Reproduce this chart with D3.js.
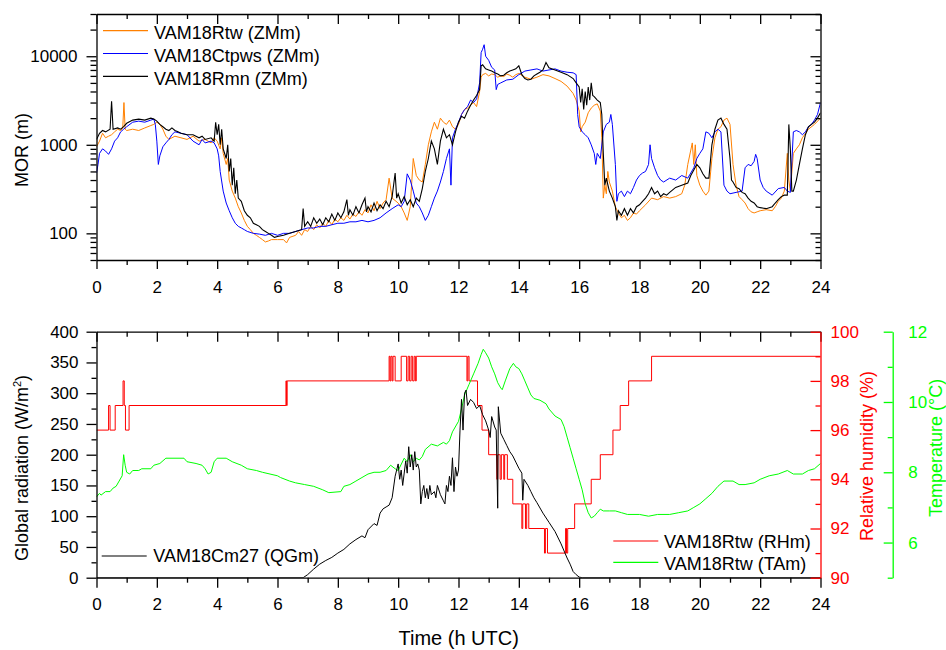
<!DOCTYPE html>
<html>
<head>
<meta charset="utf-8">
<script src="https://cdnjs.cloudflare.com/ajax/libs/d3/7.8.5/d3.min.js"></script>
<style>
body { margin: 0; background: #fff; }
svg text { font-family: "Liberation Sans", Arial, sans-serif; }
</style>
</head>
<body>
<div id="chart"></div>
<script>
// ---- data: [hour UTC, value] ----
// MOR (m), top panel
var morRtw = [[0,950],[0.1,1100],[0.2,1350],[0.3,1200],[0.4,1250],[0.5,1300],[0.6,1400],[0.7,1500],[0.8,1450],[0.87,1550],[0.91,3000],[0.95,1500],[1.0,1450],[1.2,1500],[1.4,1450],[1.6,1550],[1.8,1650],[1.9,1700],[2.0,1800],[2.1,1700],[2.2,1500],[2.3,1250],[2.4,1150],[2.5,1200],[2.6,1250],[2.8,1200],[3.0,1150],[3.2,1250],[3.4,1100],[3.6,1150],[3.8,1050],[3.9,1200],[4.0,1100],[4.1,900],[4.15,1200],[4.2,800],[4.3,600],[4.35,700],[4.4,400],[4.5,300],[4.6,250],[4.7,200],[4.8,170],[4.9,140],[5.0,120],[5.1,110],[5.2,100],[5.3,95],[5.4,90],[5.5,85],[5.6,80],[5.7,82],[5.8,85],[6.0,85],[6.2,85],[6.3,78],[6.4,90],[6.6,95],[6.7,105],[6.8,95],[6.9,110],[7.0,105],[7.1,120],[7.2,110],[7.3,125],[7.4,115],[7.5,130],[7.6,120],[7.7,140],[7.8,125],[7.9,145],[8.0,135],[8.1,150],[8.2,140],[8.3,160],[8.4,145],[8.5,165],[8.6,155],[8.7,175],[8.8,160],[8.9,185],[9.0,170],[9.1,210],[9.2,180],[9.3,230],[9.4,190],[9.5,220],[9.6,240],[9.7,420],[9.8,250],[10.0,220],[10.1,200],[10.2,170],[10.3,140],[10.4,200],[10.5,700],[10.6,450],[10.7,400],[10.8,380],[10.9,600],[11.0,1000],[11.1,1400],[11.2,1800],[11.3,1500],[11.4,2000],[11.5,1800],[11.6,1700],[11.7,1900],[11.8,1600],[11.9,1500],[12.0,1700],[12.1,2200],[12.2,2500],[12.3,2600],[12.4,2800],[12.5,3000],[12.6,2700],[12.7,4000],[12.75,5800],[12.8,6200],[12.9,6400],[13.0,6000],[13.1,6300],[13.2,6200],[13.3,5800],[13.4,6000],[13.5,5900],[13.6,6300],[13.7,6100],[13.8,5800],[13.9,6200],[14.0,6400],[14.2,5800],[14.4,5500],[14.6,5800],[14.8,6200],[15.0,6000],[15.2,5600],[15.4,5200],[15.6,4600],[15.8,3800],[15.9,3200],[16.0,2400],[16.05,1400],[16.1,1600],[16.2,1800],[16.3,2300],[16.4,2600],[16.5,2800],[16.6,2900],[16.7,2400],[16.75,1200],[16.8,250],[16.85,350],[16.9,280],[16.95,500],[17.0,380],[17.1,300],[17.2,200],[17.3,170],[17.4,150],[17.5,160],[17.6,140],[17.7,150],[17.8,170],[17.9,165],[18.0,180],[18.2,210],[18.4,250],[18.6,240],[18.8,260],[19.0,250],[19.2,260],[19.4,280],[19.5,350],[19.6,600],[19.75,1050],[19.8,600],[19.85,1000],[19.9,450],[20.0,350],[20.1,300],[20.2,270],[20.3,300],[20.4,700],[20.5,1200],[20.6,1500],[20.7,1600],[20.8,1900],[20.9,2000],[21.0,1700],[21.1,600],[21.2,350],[21.3,260],[21.4,240],[21.5,220],[21.6,190],[21.7,175],[21.8,170],[21.9,175],[22.0,180],[22.2,185],[22.4,180],[22.5,200],[22.6,230],[22.7,250],[22.8,300],[22.9,800],[22.95,400],[23.0,300],[23.1,800],[23.2,900],[23.3,1000],[23.4,1200],[23.6,1500],[23.8,1700],[24.0,2000]]

var morCtpws = [[0,480],[0.05,600],[0.1,800],[0.2,900],[0.3,850],[0.4,780],[0.5,900],[0.6,1100],[0.7,1200],[0.8,1400],[0.9,1500],[1.0,1600],[1.2,1800],[1.4,1850],[1.6,1800],[1.8,1900],[1.9,1950],[1.95,1700],[2.0,1100],[2.05,600],[2.1,750],[2.2,950],[2.3,1050],[2.4,1150],[2.5,1300],[2.6,1400],[2.8,1350],[3.0,1300],[3.2,1100],[3.4,1000],[3.5,1150],[3.6,1050],[3.8,1100],[3.9,1050],[4.0,900],[4.05,750],[4.1,500],[4.2,300],[4.3,220],[4.4,180],[4.5,150],[4.6,130],[4.7,120],[4.8,115],[4.9,110],[5.0,105],[5.2,100],[5.4,98],[5.6,95],[5.8,100],[6.0,95],[6.2,100],[6.4,100],[6.6,105],[6.8,110],[7.0,115],[7.2,115],[7.4,120],[7.6,120],[7.8,125],[8.0,130],[8.2,130],[8.4,135],[8.6,135],[8.8,140],[9.0,135],[9.2,140],[9.4,150],[9.6,170],[9.8,190],[10.0,210],[10.1,200],[10.2,230],[10.3,470],[10.4,400],[10.5,300],[10.6,220],[10.7,200],[10.8,170],[10.9,140],[11.0,160],[11.1,200],[11.2,250],[11.3,300],[11.4,380],[11.5,500],[11.6,700],[11.7,900],[11.75,350],[11.8,1200],[11.9,1500],[12.0,1800],[12.1,2200],[12.2,2500],[12.3,2700],[12.4,3200],[12.5,3000],[12.6,3300],[12.7,5000],[12.75,11000],[12.8,12000],[12.85,13500],[12.9,10000],[13.0,9000],[13.1,7500],[13.2,7000],[13.25,4200],[13.3,4800],[13.4,5000],[13.6,5400],[13.8,5500],[14.0,6200],[14.2,6800],[14.4,7000],[14.6,7200],[14.8,6800],[15.0,7000],[15.2,7200],[15.4,6800],[15.6,6600],[15.8,6500],[15.9,6200],[15.95,2200],[16.0,1600],[16.1,1400],[16.2,1300],[16.3,1200],[16.4,1000],[16.5,800],[16.55,600],[16.6,800],[16.7,700],[16.8,1400],[16.9,1700],[17.0,1800],[17.05,2200],[17.1,1700],[17.2,600],[17.25,230],[17.3,280],[17.4,300],[17.5,260],[17.6,300],[17.7,280],[17.8,330],[17.9,400],[18.0,450],[18.1,480],[18.2,500],[18.3,600],[18.35,1000],[18.4,700],[18.5,550],[18.6,450],[18.7,400],[18.8,380],[19.0,420],[19.2,400],[19.4,450],[19.6,420],[19.8,550],[19.9,700],[20.0,800],[20.1,900],[20.2,1400],[20.3,1350],[20.4,1200],[20.5,1400],[20.6,1500],[20.7,1400],[20.8,350],[20.9,300],[21.0,280],[21.2,290],[21.4,300],[21.5,550],[21.6,600],[21.7,580],[21.8,650],[21.85,780],[21.9,700],[22.0,400],[22.1,330],[22.2,300],[22.4,270],[22.6,320],[22.8,330],[22.9,300],[23.0,290],[23.1,1400],[23.2,1450],[23.3,1400],[23.4,1300],[23.5,1400],[23.6,1600],[23.7,1700],[23.8,1900],[23.9,2200],[24.0,3000]]

var morRmn = [[0,1150],[0.1,1350],[0.2,1450],[0.3,1400],[0.45,1500],[0.5,3100],[0.55,1500],[0.7,1550],[0.8,1500],[0.9,1600],[1.0,1750],[1.2,1900],[1.4,1950],[1.6,1900],[1.8,2000],[1.9,1950],[2.0,1850],[2.1,1700],[2.2,1600],[2.3,1500],[2.4,1450],[2.5,1550],[2.6,1450],[2.7,1400],[2.8,1350],[3.0,1300],[3.2,1300],[3.4,1200],[3.5,1250],[3.6,1150],[3.8,1200],[3.9,1100],[3.95,1800],[4.0,1300],[4.05,1700],[4.1,1000],[4.15,1500],[4.2,900],[4.3,700],[4.35,1000],[4.4,500],[4.45,700],[4.5,350],[4.55,550],[4.6,280],[4.65,400],[4.7,250],[4.8,230],[4.9,180],[5.0,160],[5.1,150],[5.2,130],[5.3,125],[5.4,120],[5.5,110],[5.6,105],[5.7,100],[5.8,95],[5.9,90],[6.0,92],[6.2,95],[6.4,100],[6.6,105],[6.8,110],[6.85,190],[6.9,120],[7.0,135],[7.1,120],[7.2,150],[7.3,130],[7.4,145],[7.5,125],[7.6,150],[7.7,135],[7.8,165],[7.9,140],[8.0,170],[8.1,150],[8.2,175],[8.3,240],[8.35,160],[8.4,185],[8.5,160],[8.6,200],[8.7,170],[8.8,210],[8.9,250],[8.95,175],[9.0,200],[9.1,175],[9.2,220],[9.3,180],[9.4,210],[9.5,190],[9.6,230],[9.7,200],[9.8,260],[9.9,480],[9.95,250],[10.0,280],[10.1,220],[10.2,260],[10.3,210],[10.4,240],[10.5,200],[10.6,250],[10.7,230],[10.8,320],[10.9,500],[11.0,700],[11.1,1100],[11.2,900],[11.3,600],[11.4,1100],[11.5,1500],[11.6,1200],[11.7,1300],[11.8,1000],[11.9,1400],[12.0,1800],[12.1,2100],[12.2,2000],[12.3,2400],[12.4,2800],[12.5,3200],[12.6,3600],[12.7,4200],[12.75,7800],[12.8,8000],[12.9,7200],[13.0,7000],[13.1,6800],[13.2,6500],[13.3,6300],[13.4,6000],[13.5,6100],[13.6,6500],[13.7,6800],[13.8,7000],[13.9,7200],[14.0,7800],[14.1,6200],[14.2,5600],[14.3,5400],[14.4,5500],[14.5,6000],[14.6,6300],[14.7,6600],[14.8,7000],[14.9,8500],[15.0,7400],[15.2,7000],[15.4,6600],[15.6,6200],[15.8,5600],[15.9,5000],[16.0,4500],[16.05,3000],[16.1,4300],[16.15,2500],[16.2,4000],[16.25,2800],[16.3,4500],[16.35,3200],[16.4,5000],[16.45,3600],[16.5,3500],[16.6,3200],[16.7,3000],[16.75,2200],[16.8,800],[16.85,350],[16.9,420],[17.0,300],[17.1,250],[17.2,200],[17.25,140],[17.3,180],[17.4,160],[17.5,190],[17.6,160],[17.7,190],[17.8,170],[17.9,200],[18.0,210],[18.1,230],[18.2,250],[18.3,280],[18.4,330],[18.5,280],[18.6,300],[18.7,260],[18.8,280],[18.9,270],[19.0,290],[19.2,330],[19.4,350],[19.6,370],[19.7,450],[19.8,520],[19.9,600],[20.0,550],[20.1,470],[20.2,420],[20.3,420],[20.4,1000],[20.5,1500],[20.6,1900],[20.7,2000],[20.8,1700],[20.9,1500],[21.0,700],[21.05,400],[21.1,380],[21.2,330],[21.3,320],[21.4,290],[21.5,280],[21.6,250],[21.7,230],[21.8,220],[21.9,200],[22.0,195],[22.2,190],[22.4,200],[22.5,220],[22.6,240],[22.7,260],[22.8,270],[22.9,270],[22.95,1700],[23.0,900],[23.05,300],[23.1,300],[23.2,400],[23.3,600],[23.4,900],[23.5,1300],[23.6,1600],[23.7,1700],[23.8,1800],[23.9,2000],[24.0,2300]]

// global radiation (W/m2), bottom panel
var qgCm27 = [[0,0],[6.85,0],[7.0,5],[7.2,14],[7.4,22],[7.6,28],[7.8,33],[8.0,40],[8.2,46],[8.4,55],[8.6,62],[8.8,68],[8.9,65],[9.0,78],[9.2,88],[9.3,85],[9.4,105],[9.5,112],[9.6,115],[9.7,118],[9.8,130],[9.9,165],[10.0,185],[10.05,160],[10.1,175],[10.15,150],[10.25,190],[10.3,170],[10.35,213],[10.4,180],[10.45,200],[10.5,175],[10.55,205],[10.6,180],[10.65,185],[10.7,175],[10.75,120],[10.8,140],[10.85,150],[10.9,130],[10.95,145],[11.0,128],[11.05,150],[11.1,135],[11.2,140],[11.25,130],[11.3,150],[11.4,135],[11.5,125],[11.55,120],[11.6,150],[11.65,140],[11.7,165],[11.75,150],[11.8,195],[11.85,140],[11.9,180],[11.95,165],[12.0,175],[12.05,240],[12.1,290],[12.15,240],[12.2,300],[12.25,305],[12.3,280],[12.4,290],[12.5,285],[12.6,275],[12.7,280],[12.8,265],[12.9,255],[13.0,240],[13.05,228],[13.1,262],[13.2,245],[13.25,240],[13.3,113],[13.32,278],[13.4,235],[13.5,225],[13.6,215],[13.7,205],[13.8,198],[13.9,188],[14.0,178],[14.1,170],[14.13,126],[14.17,160],[14.3,150],[14.4,140],[14.5,130],[14.6,122],[14.8,105],[15.0,90],[15.2,75],[15.4,55],[15.6,32],[15.7,22],[15.8,10],[15.9,5],[16.0,1],[16.1,0],[24,0]]

// relative humidity (%), value holds until next entry
var rhRtw = [[0,96],[0.4,97],[0.45,96],[0.62,97],[0.88,98],[0.92,97],[0.96,96],[1.08,97],[6.28,98],[6.3,97],[6.32,98],[9.7,99],[9.73,98],[9.76,99],[9.8,98],[9.83,99],[9.9,98],[10.1,99],[10.28,98],[10.33,99],[10.38,98],[10.43,99],[10.48,98],[10.53,99],[10.57,98],[10.6,99],[12.28,98],[12.31,99],[12.35,98],[12.63,97],[12.78,96],[13.0,95],[13.27,94],[13.3,95],[13.38,94],[13.42,95],[13.5,94],[13.53,95],[13.62,94],[13.8,93],[14.1,92],[14.13,93],[14.22,92],[14.26,93],[14.33,92],[14.85,91],[14.88,92],[14.95,91],[15.55,92],[15.58,91],[15.62,92],[15.85,93],[16.4,94],[16.7,95],[17.12,96],[17.36,97],[17.64,98],[18.4,99],[24,99]]

// air temperature (degC)
var taRtw = [[0,7.3],[0.1,7.4],[0.15,7.35],[0.3,7.45],[0.45,7.45],[0.55,7.55],[0.65,7.6],[0.75,7.75],[0.85,7.9],[0.9,8.5],[0.95,8.2],[1.0,8.0],[1.1,7.95],[1.2,8.05],[1.4,8.05],[1.5,8.1],[1.8,8.1],[1.9,8.2],[2.1,8.25],[2.3,8.4],[2.9,8.4],[3.0,8.3],[3.3,8.25],[3.5,8.2],[3.6,8.1],[3.7,7.95],[3.8,8.0],[3.9,8.3],[4.0,8.4],[4.3,8.4],[4.5,8.3],[4.8,8.2],[5.0,8.1],[5.3,8.05],[5.5,8.0],[6.0,7.9],[6.1,7.85],[6.4,7.75],[6.6,7.7],[6.9,7.65],[7.2,7.6],[7.5,7.5],[7.7,7.42],[8.1,7.45],[8.2,7.6],[8.4,7.65],[8.6,7.75],[8.8,7.85],[9.0,7.95],[9.2,8.0],[9.4,8.0],[9.6,8.05],[9.75,8.2],[9.9,8.1],[10.0,8.05],[10.2,8.4],[10.3,8.3],[10.4,8.5],[10.5,8.3],[10.6,8.4],[10.7,8.35],[10.8,8.45],[10.9,8.65],[11.1,8.8],[11.3,8.75],[11.5,8.85],[11.6,8.8],[11.7,8.9],[11.8,9.15],[12.0,9.45],[12.1,9.8],[12.2,10.2],[12.35,10.5],[12.5,10.8],[12.65,11.1],[12.75,11.35],[12.82,11.5],[12.9,11.4],[13.0,11.25],[13.1,11.0],[13.2,10.8],[13.3,10.55],[13.4,10.4],[13.45,10.35],[13.55,10.6],[13.7,10.95],[13.82,11.1],[13.9,11.0],[14.0,10.95],[14.1,10.8],[14.2,10.6],[14.3,10.4],[14.4,10.2],[14.5,10.1],[14.7,10.05],[14.9,9.95],[15.0,9.8],[15.2,9.6],[15.4,9.5],[15.5,9.3],[15.6,9.0],[15.7,8.7],[15.8,8.4],[15.9,8.1],[16.0,7.8],[16.1,7.5],[16.2,7.1],[16.3,6.85],[16.4,6.7],[16.5,6.75],[16.6,6.85],[16.7,6.95],[16.8,6.9],[17.0,6.9],[17.2,6.9],[17.4,6.85],[17.6,6.8],[18.0,6.8],[18.3,6.75],[18.6,6.8],[19.0,6.8],[19.3,6.85],[19.6,6.9],[19.8,7.0],[20.0,7.1],[20.2,7.25],[20.4,7.4],[20.6,7.6],[20.8,7.75],[21.1,7.75],[21.3,7.65],[21.5,7.65],[21.8,7.7],[22.0,7.8],[22.3,7.9],[22.6,7.95],[22.9,8.05],[23.1,7.95],[23.4,7.95],[23.6,8.05],[23.8,8.1],[24.0,8.25]]

// ticks
var hourMajor = d3.range(0, 25, 2)
var hourMinor = d3.range(1, 24, 2)
var morMajor = [100, 1000, 10000]
var morMinor = [50, 60, 70, 80, 90, 200, 300, 400, 500, 600, 700, 800, 900,
    2000, 3000, 4000, 5000, 6000, 7000, 8000, 9000, 20000, 30000]
var qgMajor = d3.range(0, 401, 50)
var qgMinor = d3.range(25, 400, 50)
var rhMajor = d3.range(90, 101, 2)
var rhMinor = d3.range(91, 100, 2)
var taMajor = [6, 8, 10, 12]
var taMinor = [5, 7, 9, 11]

var RED = "#ff0000", GREEN = "#00ff00", ORANGE = "#ff8000", BLUE = "#0000ff"
var FONT = "'Liberation Sans', Arial, sans-serif"

var svg = d3.select("#chart")
    .append("svg")
    .attr("width", 946)
    .attr("height", 650)

// scales
var x = d3.scaleLinear().domain([0, 24]).range([96.5, 820.5])
var yMor = d3.scaleLog().domain([50, 30000]).range([260, 14])
var yQg = d3.scaleLinear().domain([0, 400]).range([577.7, 331.7])
var yRh = d3.scaleLinear().domain([90, 100]).range([577.7, 331.7])
var yTa = d3.scaleLinear().domain([5, 12]).range([577.7, 331.7])

// clip paths for the two plot areas
var defs = svg.append("defs")
defs.append("clipPath").attr("id", "clipTop")
    .append("rect").attr("x", 96.5).attr("y", 14).attr("width", 724).attr("height", 246)
defs.append("clipPath").attr("id", "clipBot")
    .append("rect").attr("x", 96.5).attr("y", 331.7).attr("width", 724).attr("height", 246)

function styleAxis(g, color, fontSize) {
    g.attr("font-family", FONT).attr("font-size", fontSize || 17)
    g.select(".domain").attr("stroke", color).attr("stroke-width", 1.3)
    g.selectAll(".tick line").attr("stroke", color).attr("stroke-width", 1.3)
    g.selectAll(".tick text").attr("fill", color)
}

// axis with major + minor ticks
function addAxis(axisFn, scale, pos, major, minor, majorSize, minorSize, pad, fmt, color) {
    var g = svg.append("g").attr("transform", pos)
    g.call(axisFn(scale).tickValues(minor).tickSize(minorSize).tickSizeOuter(0).tickFormat(""))
    g.select(".domain").remove()
    var a = axisFn(scale).tickValues(major).tickSize(majorSize).tickSizeOuter(0).tickPadding(pad)
    if (fmt) a.tickFormat(fmt)
    else a.tickFormat("")
    var g2 = svg.append("g").attr("transform", pos).call(a)
    styleAxis(g, color)
    styleAxis(g2, color)
    return g2
}

var line = function(ys) {
    return d3.line().x(function(d) { return x(d[0]) }).y(function(d) { return ys(d[1]) })
}

// ---- top panel: MOR ----
var topPanel = svg.append("g").attr("clip-path", "url(#clipTop)")
topPanel.append("path").datum(morRtw).attr("d", line(yMor))
    .attr("fill", "none").attr("stroke", ORANGE).attr("stroke-width", 1)
topPanel.append("path").datum(morCtpws).attr("d", line(yMor))
    .attr("fill", "none").attr("stroke", BLUE).attr("stroke-width", 1)
topPanel.append("path").datum(morRmn).attr("d", line(yMor))
    .attr("fill", "none").attr("stroke", "#000").attr("stroke-width", 1.1)

addAxis(d3.axisBottom, x, "translate(0,260)", hourMajor, hourMinor, 9, 5, 12, d3.format("d"), "#000")
addAxis(d3.axisTop, x, "translate(0,14)", hourMajor, hourMinor, -10, -5, 3, null, "#000")
addAxis(d3.axisLeft, yMor, "translate(96.5,0)", morMajor, morMinor, 10, 6, 9, d3.format("d"), "#000")
addAxis(d3.axisRight, yMor, "translate(820.5,0)", morMajor, morMinor, -10, -5, 3, null, "#000")

svg.append("text")
    .attr("transform", "translate(28.3,150) rotate(-90)")
    .attr("text-anchor", "middle")
    .attr("font-size", 18)
    .text("MOR (m)")

// legend top
var legTop = [
    { name: "VAM18Rtw (ZMm)", color: ORANGE },
    { name: "VAM18Ctpws (ZMm)", color: BLUE },
    { name: "VAM18Rmn (ZMm)", color: "#000" }
]
legTop.forEach(function(d, i) {
    var yy = 30.7 + i * 22.8
    svg.append("line").attr("x1", 103).attr("x2", 148).attr("y1", yy).attr("y2", yy)
        .attr("stroke", d.color).attr("stroke-width", 1.2)
    svg.append("text").attr("x", 154).attr("y", yy + 8.6)
        .attr("font-size", 18).text(d.name)
})

// ---- bottom panel: radiation, humidity, temperature ----
var botPanel = svg.append("g").attr("clip-path", "url(#clipBot)")
botPanel.append("path").datum(rhRtw).attr("d", line(yRh).curve(d3.curveStepAfter))
    .attr("fill", "none").attr("stroke", RED).attr("stroke-width", 1)
botPanel.append("path").datum(taRtw).attr("d", line(yTa))
    .attr("fill", "none").attr("stroke", GREEN).attr("stroke-width", 1)
botPanel.append("path").datum(qgCm27).attr("d", line(yQg))
    .attr("fill", "none").attr("stroke", "#000").attr("stroke-width", 1)

addAxis(d3.axisBottom, x, "translate(0,577.7)", hourMajor, hourMinor, 10, 5, 10, d3.format("d"), "#000")
addAxis(d3.axisTop, x, "translate(0,331.7)", hourMajor, hourMinor, -10, -5, 3, null, "#000")
addAxis(d3.axisLeft, yQg, "translate(96.5,0)", qgMajor, qgMinor, 10, 5, 8, d3.format("d"), "#000")
addAxis(d3.axisRight, yRh, "translate(820.5,0)", rhMajor, rhMinor, -10, -5, 10, d3.format("d"), RED)
addAxis(d3.axisRight, yTa, "translate(892.7,0)", taMajor, taMinor, -9, -5, 15.5, d3.format("d"), GREEN)

var gr = svg.append("text")
    .attr("transform", "translate(28,468) rotate(-90)")
    .attr("text-anchor", "middle")
    .attr("font-size", 18)
gr.append("tspan").text("Global radiation (W/m")
gr.append("tspan").attr("dy", -7).attr("font-size", 11).text("2")
gr.append("tspan").attr("dy", 7).text(")")

svg.append("text")
    .attr("transform", "translate(873.3,456) rotate(-90)")
    .attr("text-anchor", "middle")
    .attr("font-size", 18)
    .attr("fill", RED)
    .text("Relative humidity (%)")

svg.append("text")
    .attr("transform", "translate(941.5,448) rotate(-90)")
    .attr("text-anchor", "middle")
    .attr("font-size", 18)
    .attr("fill", GREEN)
    .text("Temperature (\u00B0C)")

svg.append("text")
    .attr("x", 458.7).attr("y", 645)
    .attr("text-anchor", "middle")
    .attr("font-size", 20)
    .text("Time (h UTC)")

// legends bottom
svg.append("line").attr("x1", 101.7).attr("x2", 146.7).attr("y1", 556).attr("y2", 556)
    .attr("stroke", "#000").attr("stroke-width", 1.2)
svg.append("text").attr("x", 153.3).attr("y", 562.3).attr("font-size", 18).text("VAM18Cm27 (QGm)")

var legBot = [
    { name: "VAM18Rtw (RHm)", color: RED },
    { name: "VAM18Rtw (TAm)", color: GREEN }
]
legBot.forEach(function(d, i) {
    var yy = 541 + i * 21.3
    svg.append("line").attr("x1", 613.3).attr("x2", 658.3).attr("y1", yy).attr("y2", yy)
        .attr("stroke", d.color).attr("stroke-width", 1.2)
    svg.append("text").attr("x", 664).attr("y", yy + 7.3)
        .attr("font-size", 18).text(d.name)
})
</script>
</body>
</html>
